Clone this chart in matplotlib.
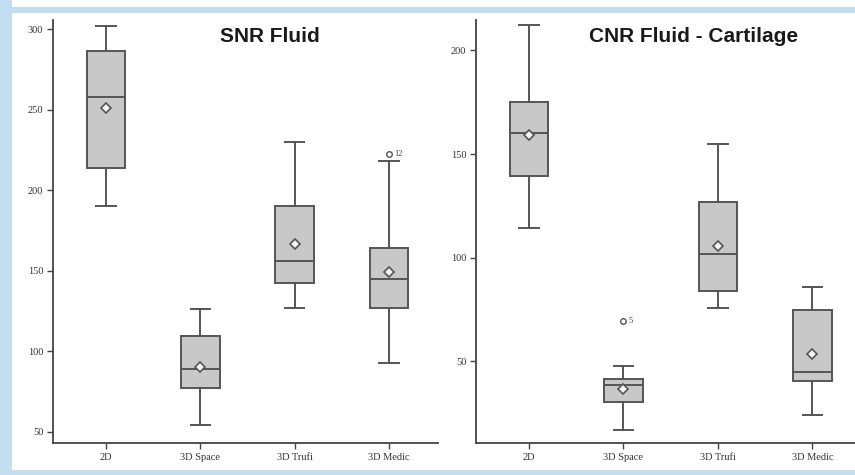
import matplotlib
matplotlib.use("Agg")
import matplotlib.pyplot as plt
from matplotlib.patches import Rectangle

categories = ["2D", "3D Space", "3D Trufi", "3D Medic"]

# SNR Fluid
snr_whislo = [190, 54.4, 127, 92.6]
snr_q1 = [214, 77, 142.5, 126.6]
snr_med = [258, 89, 155.8, 144.7]
snr_q3 = [286.5, 109.4, 190.3, 163.9]
snr_whishi = [302, 126, 230, 218]
snr_mean = [250.8, 90.4, 166.3, 149]
snr_fliers = [[], [], [], [222.6]]
snr_flier_labels = [[], [], [], ["12"]]
snr_yticks = [50, 100, 150, 200, 250, 300]

# CNR Fluid - Cartilage
cnr_whislo = [114.2, 16.9, 75.6, 24.1]
cnr_q1 = [139.6, 30.3, 84, 40.4]
cnr_med = [160.2, 38.3, 101.7, 44.8]
cnr_q3 = [175.2, 41.6, 126.8, 74.6]
cnr_whishi = [212.2, 47.5, 154.8, 85.9]
cnr_mean = [159, 36.7, 105.6, 53.5]
cnr_fliers = [[], [69.5], [], []]
cnr_flier_labels = [[], ["5"], [], []]
cnr_yticks = [50, 100, 150, 200]

W, H = 855, 475
fig = plt.figure(figsize=(W / 100, H / 100), dpi=100)
fig.patch.set_facecolor("#c3def0")
fig.patches.append(Rectangle((12 / W, (H - 470) / H), 1 - 12 / W, (470 - 13) / H,
                             transform=fig.transFigure, facecolor="white",
                             edgecolor="none", zorder=-5))
fig.patches.append(Rectangle((12 / W, (H - 7) / H), 1 - 12 / W, 7 / H,
                             transform=fig.transFigure, facecolor="white",
                             edgecolor="none", zorder=-5))

edge = "#555555"
fill = "#c8c8c8"
serif = ["Liberation Serif", "DejaVu Serif"]


def panel(rect, xlim, ylim, lo, q1, med, q3, hi, mean, fliers, flabels, yticks, title, tx):
    ax = fig.add_axes(rect)
    ax.set_zorder(2)
    ax.set_facecolor("none")
    stats = []
    for i in range(len(categories)):
        stats.append(dict(whislo=lo[i], q1=q1[i], med=med[i], q3=q3[i], whishi=hi[i],
                          mean=mean[i], fliers=fliers[i], label=categories[i]))
    ax.bxp(stats, positions=range(len(categories)), widths=0.41, patch_artist=True,
           showmeans=True, showfliers=True,
           boxprops=dict(facecolor=fill, edgecolor=edge, linewidth=1.4),
           medianprops=dict(color=edge, linewidth=1.4),
           whiskerprops=dict(color=edge, linewidth=1.4),
           capprops=dict(color=edge, linewidth=1.4),
           meanprops=dict(marker="D", markersize=5, markerfacecolor="#f4f4f4",
                          markeredgecolor=edge, markeredgewidth=1.2),
           flierprops=dict(marker="o", markersize=4, markerfacecolor="none",
                           markeredgecolor=edge, markeredgewidth=1.0))
    for i, (fl, lab) in enumerate(zip(fliers, flabels)):
        for v, t in zip(fl, lab):
            ax.annotate(t, (i, v), xytext=(4, 0), textcoords="offset points",
                        va="center", ha="left", fontsize=6, family=serif, color="#444444")
    ax.set_xlim(*xlim)
    ax.set_ylim(*ylim)
    ax.set_yticks(yticks)
    ax.set_xticks(range(len(categories)))
    ax.set_xticklabels(categories)
    for s in ["top", "right"]:
        ax.spines[s].set_visible(False)
    for s in ["left", "bottom"]:
        ax.spines[s].set_color("#444444")
        ax.spines[s].set_linewidth(1.3)
    ax.tick_params(axis="both", colors="#444444", labelcolor="#333333", length=4,
                   width=1.0, labelsize=7.5, pad=3)
    for lbl in ax.get_xticklabels() + ax.get_yticklabels():
        lbl.set_family(serif)
    ax.text(tx, 0.96, title, transform=ax.transAxes, ha="center", va="center",
            fontsize=15, fontweight="bold", family=["Liberation Sans", "DejaVu Sans"],
            color="#1a1a1a")
    return ax


ybot, ytop = 443, 20
panel([53 / W, (H - ybot) / H, (438 - 53) / W, (ybot - ytop) / H],
      (-0.562, 3.52), (43, 305.6),
      snr_whislo, snr_q1, snr_med, snr_q3, snr_whishi, snr_mean,
      snr_fliers, snr_flier_labels, snr_yticks, "SNR Fluid", 0.564)
panel([476 / W, (H - ybot) / H, (855 - 476) / W, (ybot - ytop) / H],
      (-0.561, 3.45), (10.5, 214.7),
      cnr_whislo, cnr_q1, cnr_med, cnr_q3, cnr_whishi, cnr_mean,
      cnr_fliers, cnr_flier_labels, cnr_yticks, "CNR Fluid - Cartilage", 0.573)

fig.savefig("out.png", dpi=100)
